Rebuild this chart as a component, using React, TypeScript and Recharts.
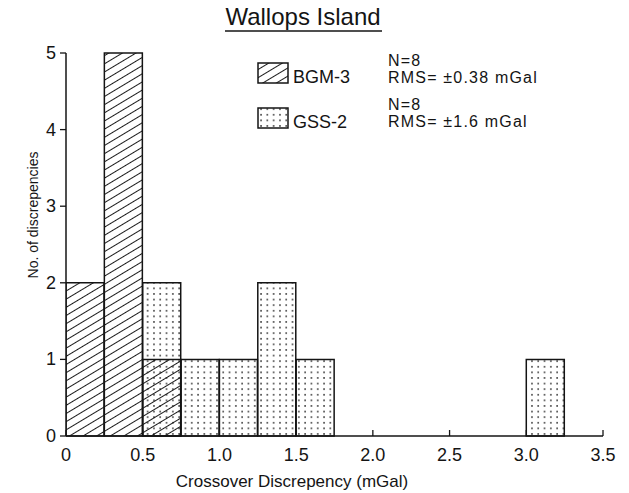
import React from 'react';
import { ComposedChart, Bar, XAxis, YAxis } from 'recharts';

// Histogram bins (lower edges, mGal) and counts per instrument
const binStarts = [0, 0.25, 0.5, 0.75, 1.0, 1.25, 1.5, 1.75, 2.0, 2.25, 2.5, 2.75, 3.0, 3.25];
const bgm3Counts = [2, 5, 1, 0, 0, 0, 0, 0, 0, 0, 0, 0, 0, 0];
const gss2Counts = [0, 0, 2, 1, 1, 2, 1, 0, 0, 0, 0, 0, 1, 0];
const binWidth = 0.25;

const xTicks = [0, 0.5, 1.0, 1.5, 2.0, 2.5, 3.0, 3.5];
const xTickLabels = ['0', '0.5', '1.0', '1.5', '2.0', '2.5', '3.0', '3.5'];
const yTicks = [0, 1, 2, 3, 4, 5];

const title = 'Wallops Island';
const xLabel = 'Crossover Discrepency (mGal)';
const yLabel = 'No. of discrepencies';
const legendNames = ['BGM-3', 'GSS-2'];
const legendN = ['N=8', 'N=8'];
const legendRms = ['RMS= \u00B10.38 mGal', 'RMS= \u00B11.6 mGal'];

const data = binStarts.map((s, i) => ({
  mid: s + binWidth / 2,
  bgm: bgm3Counts[i] > 0 ? bgm3Counts[i] : null,
  gss: gss2Counts[i] > 0 ? gss2Counts[i] : null,
}));

const FONT = '"Liberation Sans", Arial, sans-serif';
const INK = '#141414';

const XTick = (props: any) => {
  const { x, y, payload } = props;
  const idx = xTicks.indexOf(payload.value);
  const label = idx >= 0 ? xTickLabels[idx] : String(payload.value);
  return (
    <g>
      <line x1={x} y1={y} x2={x} y2={y - 6} stroke={INK} strokeWidth={1.3} />
      <text x={x} y={y + 25} textAnchor="middle" fontSize={18} fontFamily={FONT} fill={INK}>
        {label}
      </text>
    </g>
  );
};

const YTick = (props: any) => {
  const { x, y, payload } = props;
  return (
    <text x={x} y={y + 6} textAnchor="end" fontSize={18} fontFamily={FONT} fill={INK}>
      {String(payload.value)}
    </text>
  );
};

export default function App() {
  return (
    <div style={{ position: 'absolute', left: 0, top: 0, width: 629, height: 493, background: '#fff' }}>
      <svg width={0} height={0} style={{ position: 'absolute' }}>
        <defs>
          <pattern id="hatch" patternUnits="userSpaceOnUse" width={8} height={7} patternTransform="rotate(-31)">
            <line x1={0} y1={3.5} x2={8} y2={3.5} stroke="#1a1a1a" strokeWidth={1} />
          </pattern>
          <pattern id="dots" patternUnits="userSpaceOnUse" width={6.3} height={5.6}>
            <rect x={2} y={2} width={1.5} height={1.5} fill="#222" />
          </pattern>
        </defs>
      </svg>
      <ComposedChart
        width={629}
        height={493}
        data={data}
        margin={{ top: 53, right: 26, left: 26, bottom: 27 }}
        barCategoryGap={0}
        barGap={0}
      >
        <XAxis
          xAxisId="g"
          type="number"
          dataKey="mid"
          domain={[0, 3.5]}
          ticks={xTicks}
          interval={0}
          allowDataOverflow
          height={30}
          tickSize={0}
          tickMargin={0}
          tickLine={false}
          tick={<XTick />}
          axisLine={{ stroke: INK, strokeWidth: 1.5 }}
        />
        <XAxis xAxisId="b" type="number" dataKey="mid" domain={[0, 3.5]} allowDataOverflow hide height={0} />
        <YAxis
          type="number"
          domain={[0, 5]}
          ticks={yTicks}
          interval={0}
          width={40}
          tickSize={6}
          tickMargin={4}
          tickLine={{ stroke: INK, strokeWidth: 1.3 }}
          axisLine={{ stroke: INK, strokeWidth: 1.5 }}
          tick={<YTick />}
        />
        <Bar xAxisId="g" dataKey="gss" fill="url(#dots)" stroke={INK} strokeWidth={1.5} isAnimationActive={false} />
        <Bar xAxisId="b" dataKey="bgm" fill="url(#hatch)" stroke={INK} strokeWidth={1.5} isAnimationActive={false} />
      </ComposedChart>
      <svg width={629} height={493} style={{ position: 'absolute', left: 0, top: 0, pointerEvents: 'none' }}>
        <text x={303} y={25} textAnchor="middle" fontSize={24} fontFamily={FONT} fill={INK}>
          {title}
        </text>
        <line x1={225} y1={31} x2={382} y2={31} stroke={INK} strokeWidth={1.5} />
        <text x={292} y={487} textAnchor="middle" fontSize={17} fontFamily={FONT} fill={INK}>
          {xLabel}
        </text>
        <text
          x={34}
          y={215}
          textAnchor="middle"
          fontSize={14}
          fontFamily={FONT}
          fill={INK}
          transform="rotate(-90 34 215)"
          dominantBaseline="middle"
        >
          {yLabel}
        </text>
        {/* Legend */}
        <rect x={258} y={63} width={30} height={20} fill="url(#hatch)" stroke={INK} strokeWidth={1.5} />
        <text x={293} y={83} fontSize={18} fontFamily={FONT} fill={INK}>{legendNames[0]}</text>
        <text x={388} y={66} fontSize={16} letterSpacing={1.2} fontFamily={FONT} fill={INK}>{legendN[0]}</text>
        <text x={388} y={83} fontSize={16} letterSpacing={1.2} fontFamily={FONT} fill={INK}>{legendRms[0]}</text>
        <rect x={258} y={108} width={30} height={20} fill="url(#dots)" stroke={INK} strokeWidth={1.5} />
        <text x={293} y={128} fontSize={18} fontFamily={FONT} fill={INK}>{legendNames[1]}</text>
        <text x={388} y={110} fontSize={16} letterSpacing={1.2} fontFamily={FONT} fill={INK}>{legendN[1]}</text>
        <text x={388} y={127} fontSize={16} letterSpacing={1.2} fontFamily={FONT} fill={INK}>{legendRms[1]}</text>
      </svg>
    </div>
  );
}
